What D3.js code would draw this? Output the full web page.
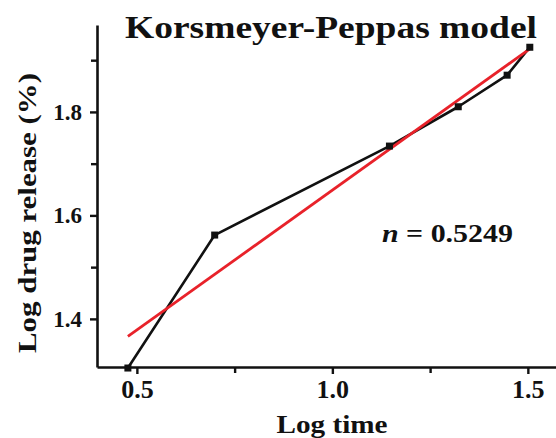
<!DOCTYPE html>
<html>
<head>
<meta charset="utf-8">
<script src="https://cdn.jsdelivr.net/npm/d3@7"></script>
<style>
  html, body { margin: 0; padding: 0; background: #fff; }
  svg { display: block; }
  text { font-family: "Liberation Serif", "Times New Roman", serif; font-weight: bold; fill: #111; }
</style>
</head>
<body>
<script>
// Data (log time vs log drug release)
const logTime = [0.477, 0.699, 1.146, 1.322, 1.447, 1.505];
const logRelease = [1.305, 1.562, 1.734, 1.810, 1.871, 1.925];
// Fitted line
const fitX = [0.477, 1.505];
const fitY = [1.366, 1.922];
const xMajorTicks = [0.5, 1.0, 1.5];
const xMinorTicks = [0.75, 1.25];
const yMajorTicks = [1.4, 1.6, 1.8];
const yMinorTicks = [1.5, 1.7, 1.9];
const titleText = "Korsmeyer-Peppas model";
const xLabel = "Log time";
const yLabel = "Log drug release (%)";
const nValue = "0.5249";

const W = 556, H = 438;
const svg = d3.select("body").append("svg").attr("width", W).attr("height", H);

const x = d3.scaleLinear().domain([0.398, 1.572]).range([97, 556]);
const y = d3.scaleLinear().domain([1.307, 1.968]).range([367, 25]);

// Axes
const xAxis = d3.axisBottom(x).tickValues(xMajorTicks).tickFormat(d3.format(".1f")).tickSizeInner(7).tickSizeOuter(0).tickPadding(6);
const xMinor = d3.axisBottom(x).tickValues(xMinorTicks).tickFormat("").tickSizeInner(6).tickSizeOuter(0);
const yAxis = d3.axisLeft(y).tickValues(yMajorTicks).tickFormat(d3.format(".1f")).tickSizeInner(7).tickSizeOuter(0).tickPadding(8);
const yMinor = d3.axisLeft(y).tickValues(yMinorTicks).tickFormat("").tickSizeInner(6).tickSizeOuter(0);

function styleAxis(g, fs) {
  g.selectAll("path.domain").attr("stroke", "#111").attr("stroke-width", 2.6);
  g.selectAll(".tick line").attr("stroke", "#111").attr("stroke-width", 2.4);
  g.selectAll(".tick text").style("font-family", "'Liberation Serif', serif").style("font-weight", "bold").style("font-size", fs + "px").attr("fill", "#111");
}

const gx = svg.append("g").attr("transform", `translate(0,${y.range()[0]})`).call(xAxis);
styleAxis(gx, 26);
const gxm = svg.append("g").attr("transform", `translate(0,${y.range()[0]})`).call(xMinor);
styleAxis(gxm, 26);
gxm.select("path.domain").remove();

const gy = svg.append("g").attr("transform", `translate(${x.range()[0]},0)`).call(yAxis);
styleAxis(gy, 23);
const gym = svg.append("g").attr("transform", `translate(${x.range()[0]},0)`).call(yMinor);
styleAxis(gym, 23);
gym.select("path.domain").remove();

// Data line
const pts = logTime.map((t, i) => [t, logRelease[i]]);
const line = d3.line().x(d => x(d[0])).y(d => y(d[1]));
svg.append("path").datum(pts).attr("d", line)
  .attr("fill", "none").attr("stroke", "#111").attr("stroke-width", 2.6).attr("stroke-linejoin", "round");

// Fit line
const fitPts = fitX.map((t, i) => [t, fitY[i]]);
svg.append("path").datum(fitPts).attr("d", line)
  .attr("fill", "none").attr("stroke", "#e8222a").attr("stroke-width", 2.8);

// Markers
svg.selectAll("rect.mk").data(pts).enter().append("rect").attr("class", "mk")
  .attr("x", d => x(d[0]) - 3.5).attr("y", d => y(d[1]) - 3.5)
  .attr("width", 7).attr("height", 7).attr("fill", "#111");

// Title
svg.append("text").attr("x", 125).attr("y", 38)
  .attr("textLength", 412).attr("lengthAdjust", "spacingAndGlyphs")
  .style("font-size", "31px").text(titleText);

// Axis labels
svg.append("text").attr("x", 332).attr("y", 433).attr("text-anchor", "middle")
  .attr("textLength", 111).attr("lengthAdjust", "spacingAndGlyphs")
  .style("font-size", "26px").text(xLabel);

svg.append("text").attr("transform", "translate(36,213) rotate(-90)").attr("text-anchor", "middle")
  .attr("textLength", 280).attr("lengthAdjust", "spacingAndGlyphs")
  .style("font-size", "26px").text(yLabel);

// n annotation
const nt = svg.append("text").attr("x", 382).attr("y", 242)
  .attr("textLength", 131).attr("lengthAdjust", "spacingAndGlyphs")
  .style("font-size", "26px");
nt.append("tspan").style("font-style", "italic").text("n");
nt.append("tspan").text(" = " + nValue);
</script>
</body>
</html>
